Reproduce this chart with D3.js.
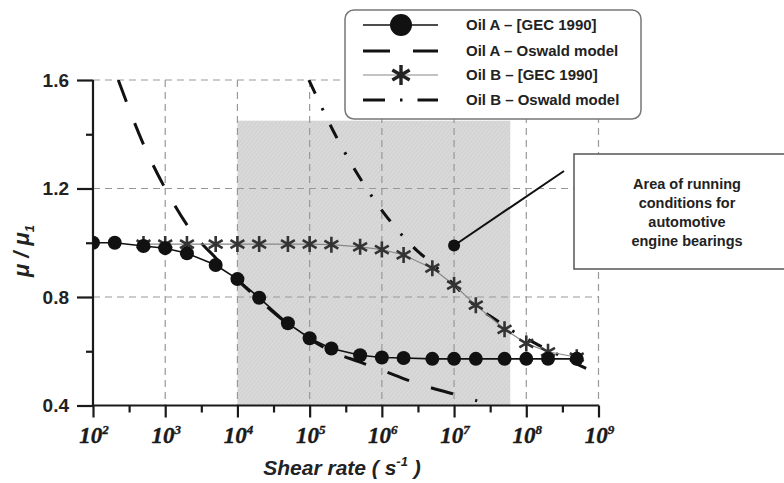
<!DOCTYPE html>
<html>
<head>
<meta charset="utf-8">
<script src="https://cdn.jsdelivr.net/npm/d3@7"></script>
<style>
  body { margin: 0; background: #fff; }
  svg { display: block; }
</style>
</head>
<body>
<div id="chart"></div>
<script>
// ---- data ----
var oilA_x = [1e2, 2e2, 5e2, 1e3, 2e3, 5e3, 1e4, 2e4, 5e4, 1e5, 2e5, 5e5, 1e6, 2e6, 5e6, 1e7, 2e7, 5e7, 1e8, 2e8, 5e8];
var oilA_y = [1.0, 1.0, 0.988, 0.98, 0.961, 0.918, 0.866, 0.797, 0.703, 0.648, 0.61, 0.585, 0.577, 0.575, 0.572, 0.572, 0.572, 0.572, 0.572, 0.572, 0.572];

var oilB_x = [5e2, 1e3, 2e3, 5e3, 1e4, 2e4, 5e4, 1e5, 2e5, 5e5, 1e6, 2e6, 5e6, 1e7, 2e7, 5e7, 1e8, 2e8, 5e8];
var oilB_y = [0.995, 0.995, 0.995, 0.995, 0.995, 0.995, 0.995, 0.995, 0.993, 0.985, 0.975, 0.955, 0.906, 0.844, 0.77, 0.681, 0.629, 0.598, 0.578];

// Oswald model curves (log10 of shear rate, mu/mu1)
var oswA_logx = [2.35, 2.72, 3.0, 3.37, 3.7, 4.0, 4.3, 4.7, 5.0, 5.3, 5.7, 6.0, 6.5, 7.0, 7.32];
var oswA_y = [1.6, 1.35, 1.2, 1.04, 0.944, 0.863, 0.79, 0.70, 0.645, 0.60, 0.56, 0.53, 0.48, 0.442, 0.417];

var oswB_logx = [4.99, 5.39, 5.75, 6.16, 6.49, 6.67, 7.0, 7.3, 7.54, 7.68, 8.12, 8.37, 8.96, 9.0];
var oswB_y = [1.6, 1.38, 1.216, 1.065, 0.97, 0.93, 0.845, 0.765, 0.723, 0.697, 0.63, 0.597, 0.522, 0.518];

var xTicks = [1e2, 1e3, 1e4, 1e5, 1e6, 1e7, 1e8, 1e9];
var xExponents = ["2", "3", "4", "5", "6", "7", "8", "9"];
var yTicks = [0.4, 0.8, 1.2, 1.6];
var yMinor = [0.6, 1.0, 1.4];

// shaded region of running conditions
var area_x = [1e4, 6e7];
var area_y = [0.4, 1.45];
var annotAnchor = {x: 1e7, y: 0.99};
var annotText = ["Area of running", "conditions for", "automotive", "engine bearings"];

var legendItems = ["Oil A \u2013 [GEC 1990]", "Oil A \u2013 Oswald model", "Oil B \u2013 [GEC 1990]", "Oil B \u2013 Oswald model"];

// ---- canvas ----
var W = 784, H = 483;
var svg = d3.select("#chart").append("svg")
  .attr("width", W).attr("height", H);

var x = d3.scaleLog().domain([1e2, 1e9]).range([93, 598.5]);
var y = d3.scaleLinear().domain([0.4, 1.6]).range([405.5, 80]);

// hatch pattern for the shaded area
var defs = svg.append("defs");
var pat = defs.append("pattern")
  .attr("id", "hatch").attr("patternUnits", "userSpaceOnUse")
  .attr("width", 3).attr("height", 3)
  .attr("patternTransform", "rotate(40)");
pat.append("rect").attr("width", 3).attr("height", 3).attr("fill", "#d3d3d3");
pat.append("line").attr("x1", 0).attr("y1", 0).attr("x2", 0).attr("y2", 3)
  .attr("stroke", "#e6e6e6").attr("stroke-width", 1);

svg.append("clipPath").attr("id", "plotclip")
  .append("rect").attr("x", 93).attr("y", 80).attr("width", 510).attr("height", 326);

svg.append("rect")
  .attr("x", x(area_x[0])).attr("y", y(area_y[1]))
  .attr("width", x(area_x[1]) - x(area_x[0]))
  .attr("height", y(area_y[0]) - y(area_y[1]))
  .attr("fill", "url(#hatch)");

// grid
var grid = svg.append("g").attr("stroke", "#999").attr("stroke-width", 1.2)
  .attr("stroke-dasharray", "7,5").attr("fill", "none");
grid.selectAll("line.v").data(xTicks.slice(1)).enter().append("line")
  .attr("x1", d => x(d)).attr("x2", d => x(d))
  .attr("y1", y(1.6)).attr("y2", y(0.4));
grid.selectAll("line.h").data(yTicks.slice(1)).enter().append("line")
  .attr("x1", x(1e2)).attr("x2", x(1e9))
  .attr("y1", d => y(d)).attr("y2", d => y(d));

// axes
var xAxis = d3.axisBottom(x).tickValues(xTicks).tickSize(12).tickFormat("");
var gx = svg.append("g").attr("transform", "translate(0," + y(0.4) + ")").call(xAxis);
var xMinorAxis = d3.axisBottom(x).tickValues(xTicks.slice(0, -1).map(d => d * Math.sqrt(10))).tickSize(7).tickFormat("");
var gxm = svg.append("g").attr("transform", "translate(0," + y(0.4) + ")").call(xMinorAxis);
gxm.select(".domain").remove();

var yAxis = d3.axisLeft(y).tickValues(yTicks).tickSize(16).tickFormat("");
var gy = svg.append("g").attr("transform", "translate(" + x(1e2) + ",0)").call(yAxis);
var yMinorAxis = d3.axisLeft(y).tickValues(yMinor).tickSize(7).tickFormat("");
var gym = svg.append("g").attr("transform", "translate(" + x(1e2) + ",0)").call(yMinorAxis);
gym.select(".domain").remove();

[gx, gxm, gy, gym].forEach(function(g) {
  g.selectAll("path, line").attr("stroke", "#1a1a1a").attr("stroke-width", 2.2);
});
gx.select(".domain").attr("d", "M" + x(1e2) + ",0H" + x(1e9));
gy.select(".domain").attr("d", "M0," + y(1.6) + "V" + y(0.4));

// x tick labels
var xl = svg.append("g");
xTicks.forEach(function(t, i) {
  var tx = xl.append("text")
    .attr("x", x(t) + 1).attr("y", 443)
    .attr("text-anchor", "middle")
    .attr("font-family", "'Liberation Serif', 'Times New Roman', serif")
    .attr("font-weight", "bold").attr("font-style", "italic")
    .attr("font-size", 23).attr("fill", "#1a1a1a")
    .attr("stroke", "#1a1a1a").attr("stroke-width", 0.4)
    .text("10");
  tx.append("tspan").attr("dy", -9).attr("font-size", 13).text(xExponents[i]);
});

// y tick labels
svg.append("g").selectAll("text").data(yTicks).enter().append("text")
  .attr("x", 69).attr("y", d => y(d) + 6.5)
  .attr("text-anchor", "end")
  .attr("font-family", "'Liberation Sans', Arial, sans-serif")
  .attr("font-weight", "bold").attr("font-size", 19).attr("fill", "#222")
  .text(d => d.toFixed(1));

// axis titles
var xt = svg.append("text")
  .attr("x", 342).attr("y", 475).attr("text-anchor", "middle")
  .attr("font-family", "'Liberation Sans', Arial, sans-serif")
  .attr("font-weight", "bold").attr("font-style", "italic")
  .attr("font-size", 21).attr("fill", "#222")
  .text("Shear rate ( s");
xt.append("tspan").attr("dy", -9).attr("font-size", 13).text("-1");
xt.append("tspan").attr("dy", 9).text(" )");

var yt = svg.append("text")
  .attr("transform", "translate(29,251) rotate(-90)")
  .attr("text-anchor", "middle")
  .attr("font-family", "'Liberation Sans', Arial, sans-serif")
  .attr("font-weight", "bold").attr("font-style", "italic")
  .attr("font-size", 22).attr("fill", "#222")
  .text("\u03bc / \u03bc");
yt.append("tspan").attr("dy", 5).attr("font-size", 13).text("1");

// series
var plot = svg.append("g").attr("clip-path", "url(#plotclip)");
var line = d3.line().x(d => x(d[0])).y(d => y(d[1]));
var curve = d3.line().curve(d3.curveMonotoneX).x(d => x(Math.pow(10, d[0]))).y(d => y(d[1]));

var dataA = oilA_x.map((d, i) => [d, oilA_y[i]]);
var dataB = oilB_x.map((d, i) => [d, oilB_y[i]]);
var oswA = oswA_logx.map((d, i) => [d, oswA_y[i]]);
var oswB = oswB_logx.map((d, i) => [d, oswB_y[i]]);

plot.append("path").datum(oswA).attr("d", curve)
  .attr("fill", "none").attr("stroke", "#111").attr("stroke-width", 3)
  .attr("stroke-dasharray", "23,23");
plot.append("path").datum(oswB).attr("d", curve)
  .attr("fill", "none").attr("stroke", "#111").attr("stroke-width", 3)
  .attr("stroke-dasharray", "15,16,2.5,16");

plot.append("path").datum(dataB).attr("d", line)
  .attr("fill", "none").attr("stroke", "#888").attr("stroke-width", 1.2);

function asterisk(r) {
  var p = "";
  [90, 30, 150].forEach(function(a) {
    var rad = a * Math.PI / 180, dx = r * Math.cos(rad), dy = r * Math.sin(rad);
    p += "M" + (-dx) + "," + (-dy) + "L" + dx + "," + dy;
  });
  return p;
}

plot.selectAll("path.star").data(dataB).enter().append("path")
  .attr("transform", d => "translate(" + x(d[0]) + "," + y(d[1]) + ")")
  .attr("d", asterisk(8)).attr("stroke", "#333").attr("stroke-width", 2.6)
  .attr("fill", "none");

plot.append("path").datum(dataA).attr("d", line)
  .attr("fill", "none").attr("stroke", "#111").attr("stroke-width", 1.6);
plot.selectAll("circle.a").data(dataA).enter().append("circle")
  .attr("cx", d => x(d[0])).attr("cy", d => y(d[1])).attr("r", 7)
  .attr("fill", "#111");

// annotation
var ax = x(annotAnchor.x), ay = y(annotAnchor.y);
svg.append("line").attr("x1", ax).attr("y1", ay).attr("x2", 564).attr("y2", 171)
  .attr("stroke", "#111").attr("stroke-width", 2);
svg.append("circle").attr("cx", ax).attr("cy", ay).attr("r", 6).attr("fill", "#111");

svg.append("rect").attr("x", 574).attr("y", 154).attr("width", 240).attr("height", 115)
  .attr("fill", "#fff").attr("stroke", "#555").attr("stroke-width", 1.5);
svg.append("g").selectAll("text").data(annotText).enter().append("text")
  .attr("x", 687).attr("y", (d, i) => 189 + i * 19)
  .attr("text-anchor", "middle")
  .attr("font-family", "'Liberation Sans', Arial, sans-serif")
  .attr("font-weight", "bold").attr("font-size", 14.5).attr("fill", "#222")
  .text(d => d);

// legend
var lg = svg.append("g");
lg.append("rect").attr("x", 345).attr("y", 10).attr("width", 296).attr("height", 109)
  .attr("rx", 9).attr("fill", "#fff").attr("stroke", "#777").attr("stroke-width", 1.5);
var rowY = [25, 51, 75, 100];
var sx0 = 363, sx1 = 438, smid = 401;
lg.append("line").attr("x1", sx0).attr("x2", sx1).attr("y1", rowY[0]).attr("y2", rowY[0])
  .attr("stroke", "#111").attr("stroke-width", 1.6);
lg.append("circle").attr("cx", smid).attr("cy", rowY[0]).attr("r", 11).attr("fill", "#111");
lg.append("line").attr("x1", sx0).attr("x2", sx1).attr("y1", rowY[1]).attr("y2", rowY[1])
  .attr("stroke", "#111").attr("stroke-width", 3).attr("stroke-dasharray", "27,23");
lg.append("line").attr("x1", sx0).attr("x2", sx1).attr("y1", rowY[2]).attr("y2", rowY[2])
  .attr("stroke", "#888").attr("stroke-width", 1.2);
lg.append("path").attr("transform", "translate(" + smid + "," + rowY[2] + ")")
  .attr("d", asterisk(10)).attr("stroke", "#222").attr("stroke-width", 3.4).attr("fill", "none");
lg.append("line").attr("x1", sx0).attr("x2", sx1).attr("y1", rowY[3]).attr("y2", rowY[3])
  .attr("stroke", "#111").attr("stroke-width", 3).attr("stroke-dasharray", "22,15,2.5,15");
lg.selectAll("text").data(legendItems).enter().append("text")
  .attr("x", 466).attr("y", (d, i) => rowY[i] + 5)
  .attr("font-family", "'Liberation Sans', Arial, sans-serif")
  .attr("font-weight", "bold").attr("font-size", 15).attr("fill", "#222")
  .text(d => d);
</script>
</body>
</html>
